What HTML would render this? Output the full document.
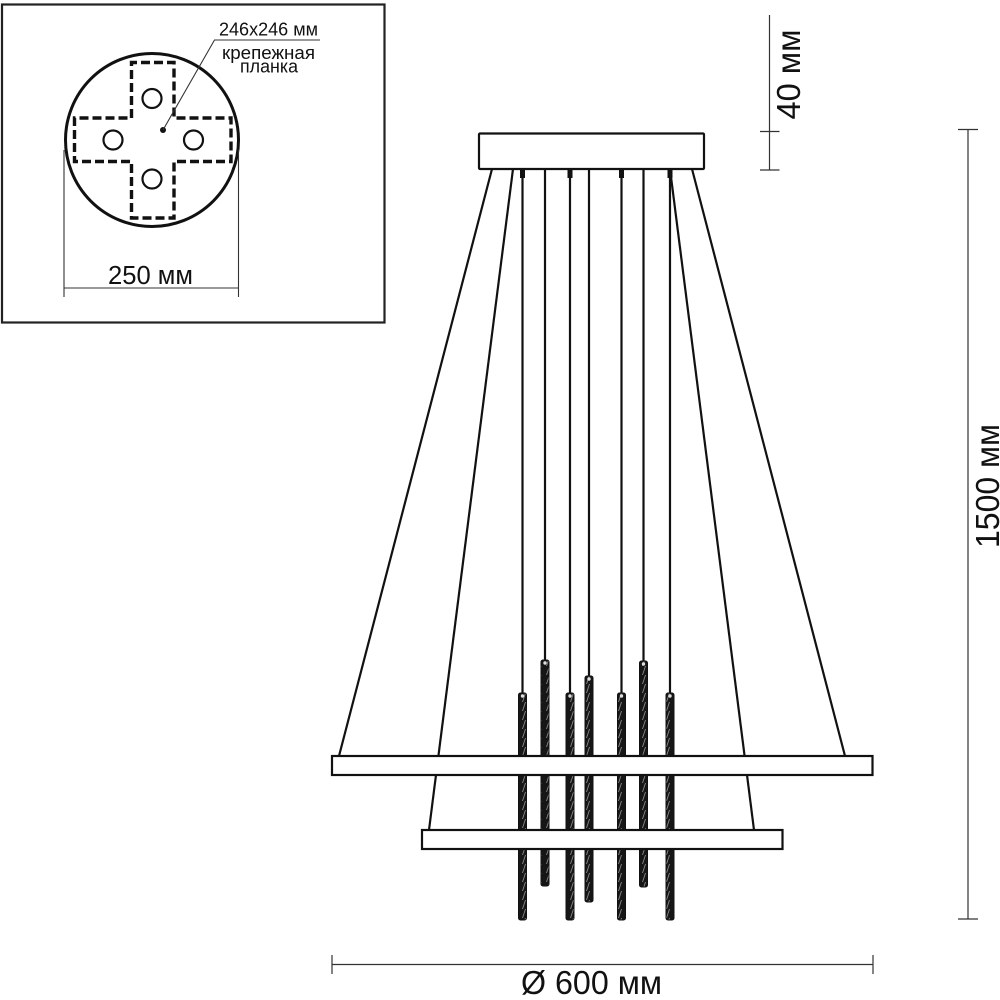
<!DOCTYPE html>
<html>
<head>
<meta charset="utf-8">
<style>
html,body{margin:0;padding:0;background:#fff;}
svg{display:block;}
text{font-family:"Liberation Sans",sans-serif;fill:#111;}
</style>
</head>
<body>
<svg width="1000" height="1000" viewBox="0 0 1000 1000" xmlns="http://www.w3.org/2000/svg">
<defs>
<pattern id="tw" width="8" height="9" patternUnits="userSpaceOnUse">
<rect width="8" height="9" fill="#161616"/>
<line x1="2.5" y1="9" x2="5.5" y2="0" stroke="#888" stroke-width="0.9"/>
</pattern>
</defs>
<rect width="1000" height="1000" fill="#fff"/>

<!-- inset -->
<rect x="2" y="4.5" width="382.5" height="318" fill="none" stroke="#222" stroke-width="2.2"/>
<circle cx="152" cy="140" r="86.5" fill="none" stroke="#111" stroke-width="3"/>
<path d="M131.5 118V62.5H174V118H231V161.5H174V218H131.5V161.5H74.5V118Z" fill="none" stroke="#111" stroke-width="3.4" stroke-dasharray="9 4"/>
<g fill="none" stroke="#111" stroke-width="2.2">
<circle cx="152" cy="98.5" r="9.5"/>
<circle cx="113" cy="140" r="9.5"/>
<circle cx="193.5" cy="140" r="9.5"/>
<circle cx="152" cy="179" r="9.5"/>
</g>
<circle cx="163" cy="130" r="3" fill="#111"/>
<polyline points="163,130 214.5,40 320,40" fill="none" stroke="#333" stroke-width="1.1"/>
<text x="219" y="35.5" font-size="18" textLength="99" lengthAdjust="spacingAndGlyphs">246х246 мм</text>
<text x="222" y="59" font-size="18.5" textLength="93" lengthAdjust="spacingAndGlyphs">крепежная</text>
<text x="240" y="72.5" font-size="18.5" textLength="58" lengthAdjust="spacingAndGlyphs">планка</text>
<g stroke="#333" stroke-width="1.1" fill="none">
<line x1="64" y1="150" x2="64" y2="297"/>
<line x1="238.5" y1="150" x2="238.5" y2="297"/>
<line x1="64" y1="288" x2="238.5" y2="288"/>
</g>
<text x="108" y="284" font-size="25.5" textLength="85" lengthAdjust="spacingAndGlyphs">250 мм</text>

<!-- cables -->
<g stroke="#111" stroke-width="2.2" fill="none">
<line x1="522.5" y1="169" x2="522.5" y2="695"/>
<line x1="545" y1="169" x2="545" y2="662"/>
<line x1="570" y1="169" x2="570" y2="695"/>
<line x1="589" y1="169" x2="589" y2="678"/>
<line x1="621.5" y1="169" x2="621.5" y2="695"/>
<line x1="643.5" y1="169" x2="643.5" y2="663"/>
<line x1="670" y1="169" x2="670" y2="695"/>
</g>
<g fill="#111">
<rect x="520" y="169" width="5" height="9"/>
<rect x="567.5" y="169" width="5" height="9"/>
<rect x="619" y="169" width="5" height="9"/>
<rect x="667.5" y="169" width="5" height="9"/>
</g>

<!-- suspension wires -->
<g stroke="#111" stroke-width="2.2" fill="none">
<line x1="492" y1="169" x2="339" y2="756"/>
<line x1="513" y1="169" x2="429" y2="830"/>
<line x1="692" y1="169" x2="845" y2="756"/>
<line x1="670" y1="169" x2="754" y2="830"/>
</g>

<!-- rods -->
<g fill="url(#tw)" stroke="#111" stroke-width="1">
<rect x="518.5" y="693" width="8" height="227" rx="2"/>
<rect x="541" y="660" width="8" height="226" rx="2"/>
<rect x="566" y="693" width="8" height="227" rx="2"/>
<rect x="585" y="676" width="8" height="226" rx="2"/>
<rect x="617.5" y="693" width="8" height="227" rx="2"/>
<rect x="639.5" y="661" width="8" height="226" rx="2"/>
<rect x="666" y="693" width="8" height="227" rx="2"/>
</g>
<g fill="#ddd" stroke="none">
<circle cx="522.5" cy="696" r="1.7"/>
<circle cx="545" cy="663" r="1.7"/>
<circle cx="570" cy="696" r="1.7"/>
<circle cx="589" cy="679" r="1.7"/>
<circle cx="621.5" cy="696" r="1.7"/>
<circle cx="643.5" cy="664" r="1.7"/>
<circle cx="670" cy="696" r="1.7"/>
</g>

<!-- canopy and rings -->
<rect x="479" y="133.5" width="225" height="35.5" rx="1" fill="#fff" stroke="#111" stroke-width="2.2"/>
<rect x="332" y="756" width="540.5" height="19" fill="#fff" stroke="#111" stroke-width="2.2"/>
<rect x="422" y="830" width="360.5" height="19" fill="#fff" stroke="#111" stroke-width="2.2"/>

<!-- 40 mm dimension -->
<g stroke="#333" stroke-width="1.2" fill="none">
<line x1="769.5" y1="15" x2="769.5" y2="170"/>
<line x1="760" y1="131.5" x2="779.5" y2="131.5"/>
<line x1="760" y1="170" x2="779.5" y2="170"/>
</g>
<text transform="translate(800,119.5) rotate(-90)" font-size="33" textLength="90" lengthAdjust="spacingAndGlyphs">40 мм</text>

<!-- 1500 mm dimension -->
<g stroke="#333" stroke-width="1.2" fill="none">
<line x1="968" y1="130" x2="968" y2="919"/>
<line x1="958" y1="129.5" x2="978" y2="129.5"/>
<line x1="958" y1="919" x2="978" y2="919"/>
</g>
<text transform="translate(999,548) rotate(-90)" font-size="33" textLength="124" lengthAdjust="spacingAndGlyphs">1500 мм</text>

<!-- 600 mm dimension -->
<g stroke="#333" stroke-width="1.2" fill="none">
<line x1="332" y1="964.5" x2="873" y2="964.5"/>
<line x1="332" y1="955" x2="332" y2="974"/>
<line x1="873" y1="955" x2="873" y2="974"/>
</g>
<text x="521" y="994" font-size="33" textLength="141" lengthAdjust="spacingAndGlyphs">Ø 600 мм</text>
</svg>
</body>
</html>
